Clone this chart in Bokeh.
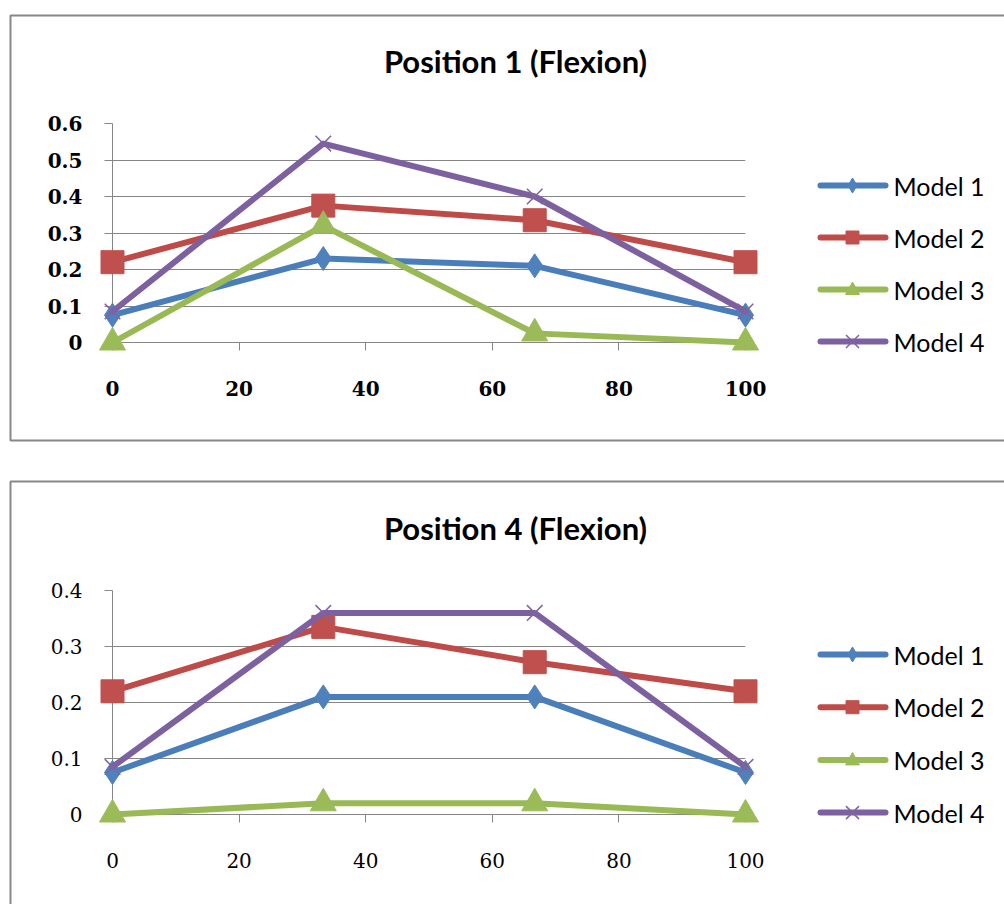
from bokeh.plotting import figure
from bokeh.models import Range1d, FixedTicker
from bokeh.core.properties import value
from bokeh.layouts import column
from bokeh.embed import file_html
from bokeh.resources import INLINE

# ---- data -------------------------------------------------------------
x_pct = [0, 33.3, 66.7, 100]
series_names = ["Model 1", "Model 2", "Model 3", "Model 4"]

pos1_model1 = [0.075, 0.23, 0.21, 0.075]
pos1_model2 = [0.22, 0.375, 0.335, 0.22]
pos1_model3 = [0.0, 0.32, 0.025, 0.0]
pos1_model4 = [0.085, 0.545, 0.40, 0.085]

pos4_model1 = [0.075, 0.21, 0.21, 0.075]
pos4_model2 = [0.22, 0.335, 0.272, 0.22]
pos4_model3 = [0.0, 0.02, 0.02, 0.0]
pos4_model4 = [0.085, 0.36, 0.36, 0.085]

x_ticks = [0, 20, 40, 60, 80, 100]
y_ticks_pos1 = [0, 0.1, 0.2, 0.3, 0.4, 0.5, 0.6]
y_labels_pos1 = ["0", "0.1", "0.2", "0.3", "0.4", "0.5", "0.6"]
y_ticks_pos4 = [0, 0.1, 0.2, 0.3, 0.4]
y_labels_pos4 = ["0", "0.1", "0.2", "0.3", "0.4"]

# ---- styling ----------------------------------------------------------
line_colors = ["#4A7EBB", "#BE4B48", "#98B954", "#7D60A0"]
marker_colors = ["#4F81BD", "#C0504D", "#9BBB59", "#8064A2"]
marker_types = ["diamond", "square", "triangle", "x"]
marker_sizes = [24, 23, 26, 22]
GRID = "#868686"
BORDER = "#878787"

# small legend-key outlines, pixel offsets from the key centre (y down)
KEY_SHAPES = {
    "diamond": [(0, -7.5), (4.5, 0), (0, 7.5), (-4.5, 0)],
    "square": [(-6.5, -6.5), (6.5, -6.5), (6.5, 6.5), (-6.5, 6.5)],
    "triangle": [(0, -7.5), (7, 5), (-7, 5)],
}
KEY_X_ARM = 6.5

FIG_W = 1004
FRAME_L, FRAME_R = 112, 745
KEY_X0, KEY_X1, KEY_MID, LABEL_X = 820, 885, 852, 893


def make_chart(title, series, y_ticks, y_labels, height, frame_top,
               frame_bottom, box_top, box_bottom, title_y, legend_first,
               legend_step, tick_bold):
    frame_h = frame_bottom - frame_top
    frame_w = FRAME_R - FRAME_L
    ymax = y_ticks[-1]

    # pixel position inside this figure -> data coordinates
    def dx(px):
        return (px - FRAME_L) / frame_w * 100

    def dy(py):
        return (frame_bottom - py) / frame_h * ymax

    p = figure(width=FIG_W, height=height, output_backend="svg",
               toolbar_location=None,
               x_range=Range1d(0, 100), y_range=Range1d(0, ymax),
               min_border_left=FRAME_L, min_border_right=FIG_W - FRAME_R,
               min_border_top=frame_top,
               min_border_bottom=height - frame_bottom)
    p.outline_line_color = None
    p.background_fill_color = "white"
    p.border_fill_color = "white"

    # grid: horizontal lines only
    p.xgrid.visible = False
    p.ygrid.ticker = FixedTicker(ticks=y_ticks)
    p.ygrid.grid_line_color = GRID
    p.ygrid.grid_line_width = 1

    weight = "bold" if tick_bold else "normal"
    for ax in (p.xaxis[0], p.yaxis[0]):
        ax.axis_line_color = GRID
        ax.major_tick_line_color = GRID
        ax.minor_tick_line_color = None
        ax.major_tick_in = 0
        ax.major_tick_out = 8
        ax.major_label_text_font = "DejaVu Serif"
        ax.major_label_text_font_size = "20px"
        ax.major_label_text_font_style = weight
        ax.major_label_text_color = "#000000"

    p.xaxis.ticker = FixedTicker(ticks=x_ticks)
    p.xaxis.major_label_standoff = 30
    p.yaxis.ticker = FixedTicker(ticks=y_ticks)
    p.yaxis.major_label_overrides = {t: s for t, s in zip(y_ticks, y_labels)}
    p.yaxis.major_label_standoff = 22

    # chart border (runs off the right edge of the page)
    border = p.quad(left=[dx(10)], right=[dx(FIG_W + 30)],
                    top=[dy(box_top)], bottom=[dy(box_bottom)],
                    fill_color=None, line_color=BORDER, line_width=2)
    border.level = "overlay"

    # series: line first, markers on top
    for ys, lc, mc, mk, ms in zip(series, line_colors, marker_colors,
                                  marker_types, marker_sizes):
        lr = p.line(x_pct, ys, line_color=lc, line_width=6,
                    line_join="round", line_cap="round")
        if mk == "x":
            mr = p.scatter(x_pct, ys, marker=mk, size=ms, line_color=mc,
                           line_width=1.5)
        else:
            mr = p.scatter(x_pct, ys, marker=mk, size=ms, fill_color=mc,
                           line_color=mc, line_width=1)
        lr.level = "overlay"
        mr.level = "overlay"

    # legend: line sample with a small centred key, then the series name
    for i, (name, lc, mc, mk) in enumerate(zip(series_names, line_colors,
                                               marker_colors, marker_types)):
        cpy = legend_first + i * legend_step
        cy = dy(cpy)
        drawn = [p.line([dx(KEY_X0), dx(KEY_X1)], [cy, cy], line_color=lc,
                        line_width=6, line_cap="round")]
        if mk == "x":
            a = KEY_X_ARM
            drawn.append(p.line(
                [dx(KEY_MID - a), dx(KEY_MID + a), float("nan"),
                 dx(KEY_MID - a), dx(KEY_MID + a)],
                [dy(cpy - a), dy(cpy + a), float("nan"),
                 dy(cpy + a), dy(cpy - a)],
                line_color=mc, line_width=1.5))
        else:
            shape = KEY_SHAPES[mk]
            drawn.append(p.patch([dx(KEY_MID + ox) for ox, _ in shape],
                                 [dy(cpy + oy) for _, oy in shape],
                                 fill_color=mc, line_color=mc, line_width=1))
        drawn.append(p.text([dx(LABEL_X)], [cy], text=[name],
                            text_align="left", text_baseline="middle",
                            text_font=value("Lato"), text_font_size="25px",
                            text_color="#000000"))
        for r in drawn:
            r.level = "overlay"

    # chart title, centred across the chart box
    r = p.text([dx(515)], [dy(title_y)], text=[title], text_align="center",
               text_baseline="middle", text_font=value("Lato"),
               text_font_style="bold", text_font_size="31px",
               text_color="#000000")
    r.level = "overlay"
    return p


p1 = make_chart("Position 1 (Flexion)",
                [pos1_model1, pos1_model2, pos1_model3, pos1_model4],
                y_ticks_pos1, y_labels_pos1, height=460, frame_top=123,
                frame_bottom=342, box_top=15, box_bottom=440, title_y=60,
                legend_first=185, legend_step=52, tick_bold=True)
p2 = make_chart("Position 4 (Flexion)",
                [pos4_model1, pos4_model2, pos4_model3, pos4_model4],
                y_ticks_pos4, y_labels_pos4, height=444, frame_top=130,
                frame_bottom=354, box_top=21, box_bottom=484, title_y=67,
                legend_first=194, legend_step=52.7, tick_bold=False)

layout = column(p1, p2, spacing=0)
open("out.html", "w").write(file_html(layout, INLINE))
